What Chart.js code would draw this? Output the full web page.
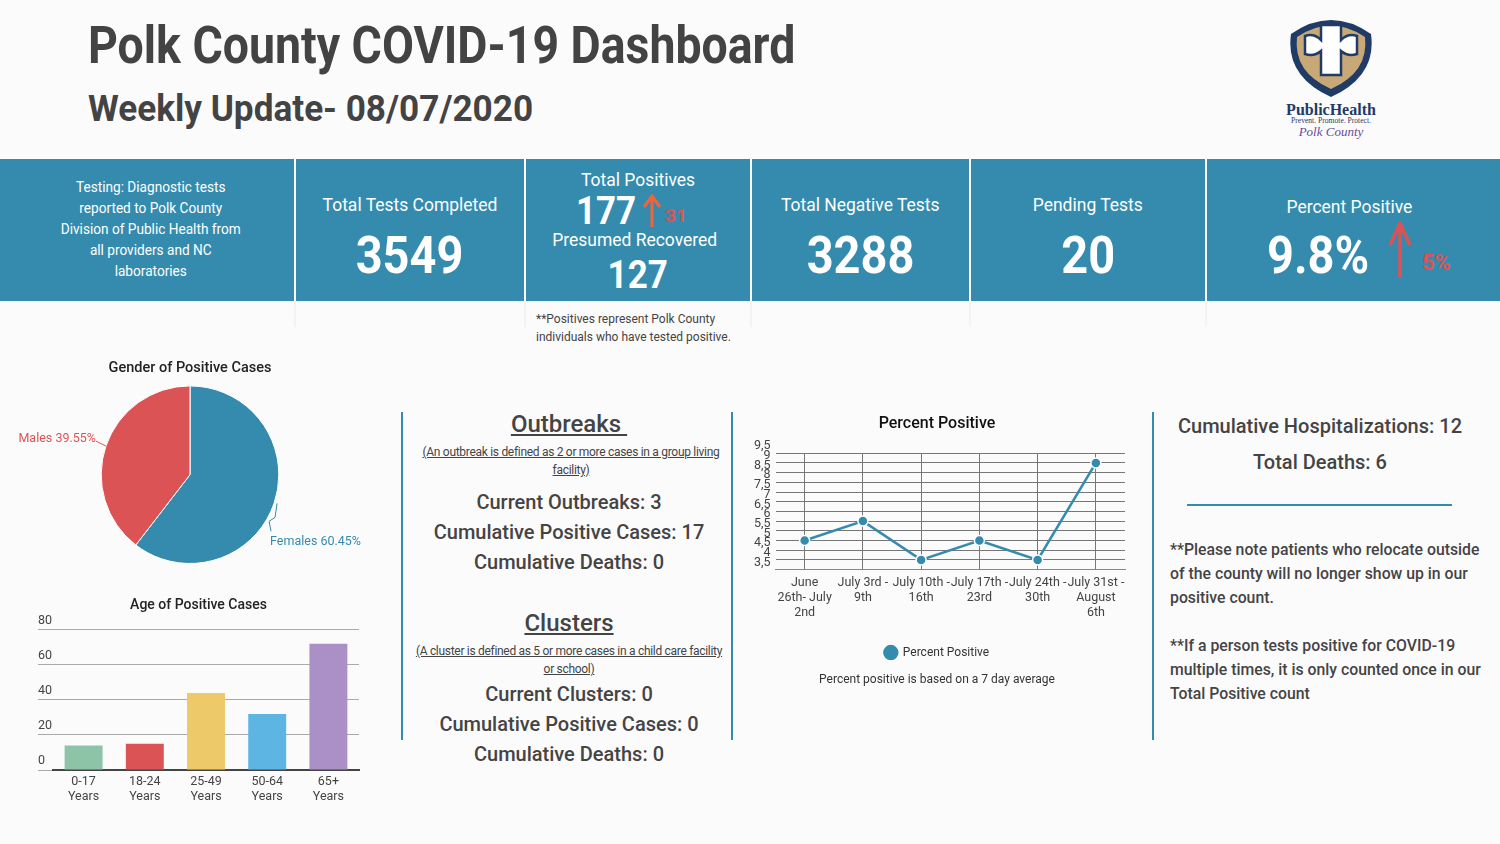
<!DOCTYPE html>
<html>
<head>
<meta charset="utf-8">
<script src="https://cdn.jsdelivr.net/npm/chart.js@4.4.0/dist/chart.umd.min.js"></script>
<style>
  html, body { margin:0; padding:0; }
  body { width:1500px; height:844px; background:#fcfbfc; position:relative; overflow:hidden; font-family:Roboto, sans-serif; color:#434343; }
  .abs { position:absolute; }
  .cond { display:inline-block; transform:scaleX(0.92); white-space:nowrap; }
  .h1 { left:88px; top:16px; font-size:51px; font-weight:700; line-height:60px; }
  .h2 { left:88px; top:86px; font-size:37px; font-weight:700; line-height:46px; }
  .h1 .cond { transform-origin:left center; transform:scaleX(0.91); }
  .h2 .cond { transform-origin:left center; transform:scaleX(0.95); }
  .band { left:0; top:159px; width:1500px; height:142px; background:#348bae; }
  .card { position:absolute; top:159px; height:142px; color:#fff; text-align:center; }
  .sep { position:absolute; top:159px; width:2px; height:168px; background:linear-gradient(#fff 0, #fff 142px, #f3f3f3 142px); }
  .lbl { position:absolute; left:0; right:0; font-size:19px; line-height:22px; }
  .num { position:absolute; left:0; right:0; font-size:51px; font-weight:700; line-height:56px; }
  .lbl .cond, .num .cond { transform-origin:center; }
  .vline { position:absolute; width:2px; background:#348bae; top:412px; height:328px; }
  .panel { position:absolute; text-align:center; color:#444; }
  .panel .t { font-size:24px; font-weight:500; text-decoration:underline; line-height:28px; }
  .panel .d { font-size:12px; text-decoration:underline; line-height:18px; letter-spacing:-0.3px; }
  .panel .b { font-size:20px; font-weight:500; line-height:30px; }
  .note { font-size:15.8px; font-weight:500; line-height:24px; color:#444; }
</style>
</head>
<body>
<div class="abs h1"><span class="cond">Polk County COVID-19 Dashboard</span></div>
<div class="abs h2"><span class="cond">Weekly Update- 08/07/2020</span></div>

<svg class="abs" style="left:1282px;top:12px" width="98" height="132" viewBox="0 0 98 132">
  <path d="M9,22 Q49,-6 89,22 Q95,64 49,85 Q3,64 9,22 Z" fill="#1f3b66"/>
  <path d="M15,25 Q49,2 83,25 Q87,60 49,77 Q11,60 15,25 Z" fill="#c9a878"/>
  <path d="M39,13 L59,13 L59,28 Q66,21 75,24 L75,42 Q66,45 59,39 L59,63 L39,63 L39,39 Q32,45 23,42 L23,24 Q32,21 39,28 Z" fill="#fff" stroke="#1f3b66" stroke-width="2.5"/>
  <text x="49" y="103" text-anchor="middle" font-family="Liberation Serif, serif" font-weight="700" font-size="16" fill="#1f3b66">PublicHealth</text>
  <text x="49" y="111" text-anchor="middle" font-family="Liberation Serif, serif" font-size="7.6" fill="#1f3b66">Prevent. Promote. Protect.</text>
  <text x="49" y="124" text-anchor="middle" font-family="Liberation Serif, serif" font-style="italic" font-size="13" fill="#6a4b9b">Polk County</text>
</svg>

<div class="abs band"></div>
<div class="sep" style="left:294px"></div>
<div class="sep" style="left:524px"></div>
<div class="sep" style="left:750px"></div>
<div class="sep" style="left:969px"></div>
<div class="sep" style="left:1205px"></div>

<div class="card" style="left:0;width:294px">
  <div style="position:absolute;left:8px;right:0;top:18px;font-size:14.5px;line-height:21px;">
    <span class="cond" style="transform-origin:center;transform:scaleX(0.94)">Testing: Diagnostic tests<br>reported to Polk County<br>Division of Public Health from<br>all providers and NC<br>laboratories</span>
  </div>
</div>
<div class="card" style="left:296px;width:228px">
  <div class="lbl" style="top:35px"><span class="cond">Total Tests Completed</span></div>
  <div class="num" style="top:69px"><span class="cond">3549</span></div>
</div>
<div class="card" style="left:526px;width:224px">
  <div class="lbl" style="top:10px"><span class="cond">Total Positives</span></div>
  <div style="position:absolute;left:50px;top:30px;font-size:38px;font-weight:700;line-height:44px;"><span class="cond" style="transform-origin:left center">177</span></div>
  <svg style="position:absolute;left:116px;top:35px" width="20" height="34"><path d="M10,33 L10,3 M2,13 L10,2 L18,13" stroke="#f0643c" stroke-width="3" fill="none"/></svg>
  <div style="position:absolute;left:139px;top:47px;font-size:19px;font-weight:700;color:#dc5356;line-height:20px;">31</div>
  <div class="lbl" style="top:70px;left:-6px"><span class="cond">Presumed Recovered</span></div>
  <div style="position:absolute;left:0;right:0;top:95px;font-size:38px;font-weight:700;line-height:42px;"><span class="cond">127</span></div>
</div>
<div class="card" style="left:752px;width:217px">
  <div class="lbl" style="top:35px"><span class="cond">Total Negative Tests</span></div>
  <div class="num" style="top:69px"><span class="cond">3288</span></div>
</div>
<div class="card" style="left:971px;width:234px">
  <div class="lbl" style="top:35px"><span class="cond">Pending Tests</span></div>
  <div class="num" style="top:69px"><span class="cond">20</span></div>
</div>
<div class="card" style="left:1207px;width:293px">
  <div class="lbl" style="top:37px;left:-8px"><span class="cond">Percent Positive</span></div>
  <div style="position:absolute;left:60px;top:69px;font-size:51px;font-weight:700;line-height:56px;"><span class="cond" style="transform-origin:left center">9.8%</span></div>
  <svg style="position:absolute;left:180px;top:62px" width="26" height="58"><path d="M13,57 L13,4 M3,24 L13,2 L23,24" stroke="#dc5356" stroke-width="3.5" fill="none"/></svg>
  <div style="position:absolute;left:215px;top:92px;font-size:22px;font-weight:700;color:#dc5356;line-height:24px;">5%</div>
</div>
<div class="abs" style="left:536px;top:310px;font-size:12.5px;line-height:18px;color:#444;">
  <span class="cond" style="transform-origin:left center;transform:scaleX(0.96)">**Positives represent Polk County<br>individuals who have tested positive.</span>
</div>

<!-- charts -->
<div class="abs" style="left:0;top:357px;width:380px;height:215px"><canvas id="genderChart"></canvas></div>
<div class="abs" style="left:24px;top:595px;width:338px;height:213px"><canvas id="ageChart"></canvas></div>
<div class="abs" style="left:745px;top:412px;width:390px;height:279px"><canvas id="pctChart"></canvas></div>

<div class="vline" style="left:401px"></div>
<div class="vline" style="left:731px"></div>
<div class="vline" style="left:1152px"></div>

<div class="panel" style="left:404px;width:330px;top:410px">
  <div class="t">Outbreaks&nbsp;</div>
  <div class="d" style="margin:5px 8px 0 12px">(An outbreak is defined as 2 or more cases in a group living facility)</div>
  <div class="b" style="margin-top:8px">Current Outbreaks: 3</div>
  <div class="b">Cumulative Positive Cases: 17</div>
  <div class="b">Cumulative Deaths: 0</div>
  <div class="t" style="margin-top:32px">Clusters</div>
  <div class="d" style="margin:5px 6px 0 6px">(A cluster is defined as 5 or more cases in a child care facility or school)</div>
  <div class="b" style="margin-top:1px">Current Clusters: 0</div>
  <div class="b">Cumulative Positive Cases: 0</div>
  <div class="b">Cumulative Deaths: 0</div>
</div>

<div class="panel" style="left:1170px;width:300px;top:411px">
  <div class="b" style="line-height:30px">Cumulative Hospitalizations: 12</div>
  <div class="b" style="margin-top:6px;line-height:30px">Total Deaths: 6</div>
</div>
<div class="abs" style="left:1187px;top:504px;width:265px;height:2px;background:#348bae"></div>
<div class="abs note" style="left:1170px;top:538px;width:320px">
  **Please note patients who relocate outside of the county will no longer show up in our positive count.<br><br>
  **If a person tests positive for COVID-19 multiple times, it is only counted once in our Total Positive count
</div>

<script>
// chart data
const genderLabels = ['Females', 'Males'];
const genderValues = [60.45, 39.55];
const genderColors = ['#348bae', '#dc5356'];

const ageLabels = [['0-17', 'Years'], ['18-24', 'Years'], ['25-49', 'Years'], ['50-64', 'Years'], ['65+', 'Years']];
const ageValues = [14, 15, 44, 32, 72];
const ageColors = ['#8dc3a7', '#dc5356', '#eec96a', '#5db5e3', '#ab90c7'];

const weekLabels = [['June', '26th- July', '2nd'], ['July 3rd -', '9th'], ['July 10th -', '16th'], ['July 17th -', '23rd'], ['July 24th -', '30th'], ['July 31st -', 'August', '6th']];
const pctValues = [5, 6, 4, 5, 4, 9];

Chart.defaults.font.family = 'Roboto';
Chart.defaults.color = '#444';
Chart.defaults.animation = false;

// leader-line labels on the pie
const pieLabels = {
  id: 'pieLabels',
  afterDatasetsDraw(chart){
    const ctx = chart.ctx;
    ctx.save();
    ctx.font = '12.5px Roboto';
    ctx.lineWidth = 1;
    chart.getDatasetMeta(0).data.forEach((arc, i) => {
      const mid = (arc.startAngle + arc.endAngle) / 2;
      const ex = arc.x + Math.cos(mid) * arc.outerRadius;
      const ey = arc.y + Math.sin(mid) * arc.outerRadius;
      const txt = genderLabels[i] + ' ' + genderValues[i].toFixed(2) + '%';
      ctx.strokeStyle = genderColors[i];
      ctx.fillStyle = genderColors[i];
      ctx.beginPath();
      if(Math.cos(mid) < 0){
        ctx.moveTo(ex, ey); ctx.lineTo(ex - 10, ey - 5); ctx.stroke();
        ctx.textAlign = 'right'; ctx.textBaseline = 'middle';
        ctx.fillText(txt, ex - 10, ey - 7);
      }else{
        ctx.moveTo(ex + 3, ey); ctx.lineTo(ex + 1, ey + 14); ctx.lineTo(ex - 5, ey + 18); ctx.lineTo(ex - 3, ey + 28); ctx.stroke();
        ctx.textAlign = 'left'; ctx.textBaseline = 'middle';
        ctx.fillText(txt, ex - 4, ey + 39);
      }
    });
    ctx.restore();
  }
};

new Chart(document.getElementById('genderChart'), {
  type: 'pie',
  data: { labels: genderLabels, datasets: [{ data: genderValues, backgroundColor: genderColors, borderColor: '#fff', borderWidth: 1 }] },
  options: {
    responsive: true, maintainAspectRatio: false,
    layout: { padding: { bottom: 8 } },
    plugins: {
      legend: { display: false },
      tooltip: { enabled: false },
      title: { display: true, text: 'Gender of Positive Cases', color: '#222', font: { size: 14.5, weight: '500' }, padding: { top: 3, bottom: 8 } }
    }
  },
  plugins: [pieLabels]
});

new Chart(document.getElementById('ageChart'), {
  type: 'bar',
  data: { labels: ageLabels, datasets: [{ data: ageValues, backgroundColor: ageColors, barPercentage: 0.62, categoryPercentage: 1 }] },
  options: {
    responsive: true, maintainAspectRatio: false,
    layout: { padding: { left: 14, right: 3 } },
    plugins: {
      legend: { display: false },
      tooltip: { enabled: false },
      title: { display: true, text: 'Age of Positive Cases', color: '#222', font: { size: 14, weight: '500' }, padding: { top: 2, bottom: 16 } }
    },
    scales: {
      x: {
        grid: { display: false, drawTicks: false },
        border: { color: '#444', width: 2 },
        ticks: { color: '#444', font: { size: 12.5 }, padding: 4, maxRotation: 0 }
      },
      y: {
        min: 0, max: 80,
        border: { display: false },
        grid: { color: '#aaa', tickLength: 15 },
        ticks: { stepSize: 20, crossAlign: 'far', padding: 0, labelOffset: -9, color: '#444', font: { size: 12.5 } },
        // labels sit above the gridlines, inside the tick-mark strip
        afterFit: scale => { scale.width = 15; }
      }
    }
  }
});

new Chart(document.getElementById('pctChart'), {
  type: 'line',
  data: { labels: weekLabels, datasets: [{ label: 'Percent Positive', data: pctValues, borderColor: '#348bae', backgroundColor: '#348bae', borderWidth: 2.5, pointRadius: 5, pointBorderColor: '#fff', pointBorderWidth: 1.5, pointStyle: 'circle', tension: 0 }] },
  options: {
    responsive: true, maintainAspectRatio: false,
    layout: { padding: { left: 4, right: 10 } },
    plugins: {
      tooltip: { enabled: false },
      title: { display: true, text: 'Percent Positive', color: '#111', font: { size: 16, weight: '500' }, padding: { top: 2, bottom: 20 } },
      legend: { position: 'bottom', labels: { usePointStyle: true, pointStyle: 'circle', boxWidth: 14, boxHeight: 14, color: '#333', font: { size: 12 }, padding: 14 } },
      subtitle: { display: true, position: 'bottom', text: 'Percent positive is based on a 7 day average', color: '#333', font: { size: 12 }, padding: { top: 4, bottom: 4 } }
    },
    scales: {
      x: {
        offset: true,
        grid: { color: '#777', offset: false, drawTicks: false },
        border: { color: '#888' },
        ticks: { color: '#444', font: { size: 12.5 }, padding: 6, maxRotation: 0, autoSkip: false },
        afterFit: scale => { scale.height += 6; }
      },
      y: {
        min: 3.5, max: 9.5,
        grid: { color: '#777', drawTicks: false },
        border: { display: false },
        ticks: { stepSize: 0.5, autoSkip: false, padding: 5, labelOffset: -7, color: '#444', font: { size: 12.5 }, callback: v => String(v).replace('.', ',') }
      }
    }
  }
});
</script>
</body>
</html>
